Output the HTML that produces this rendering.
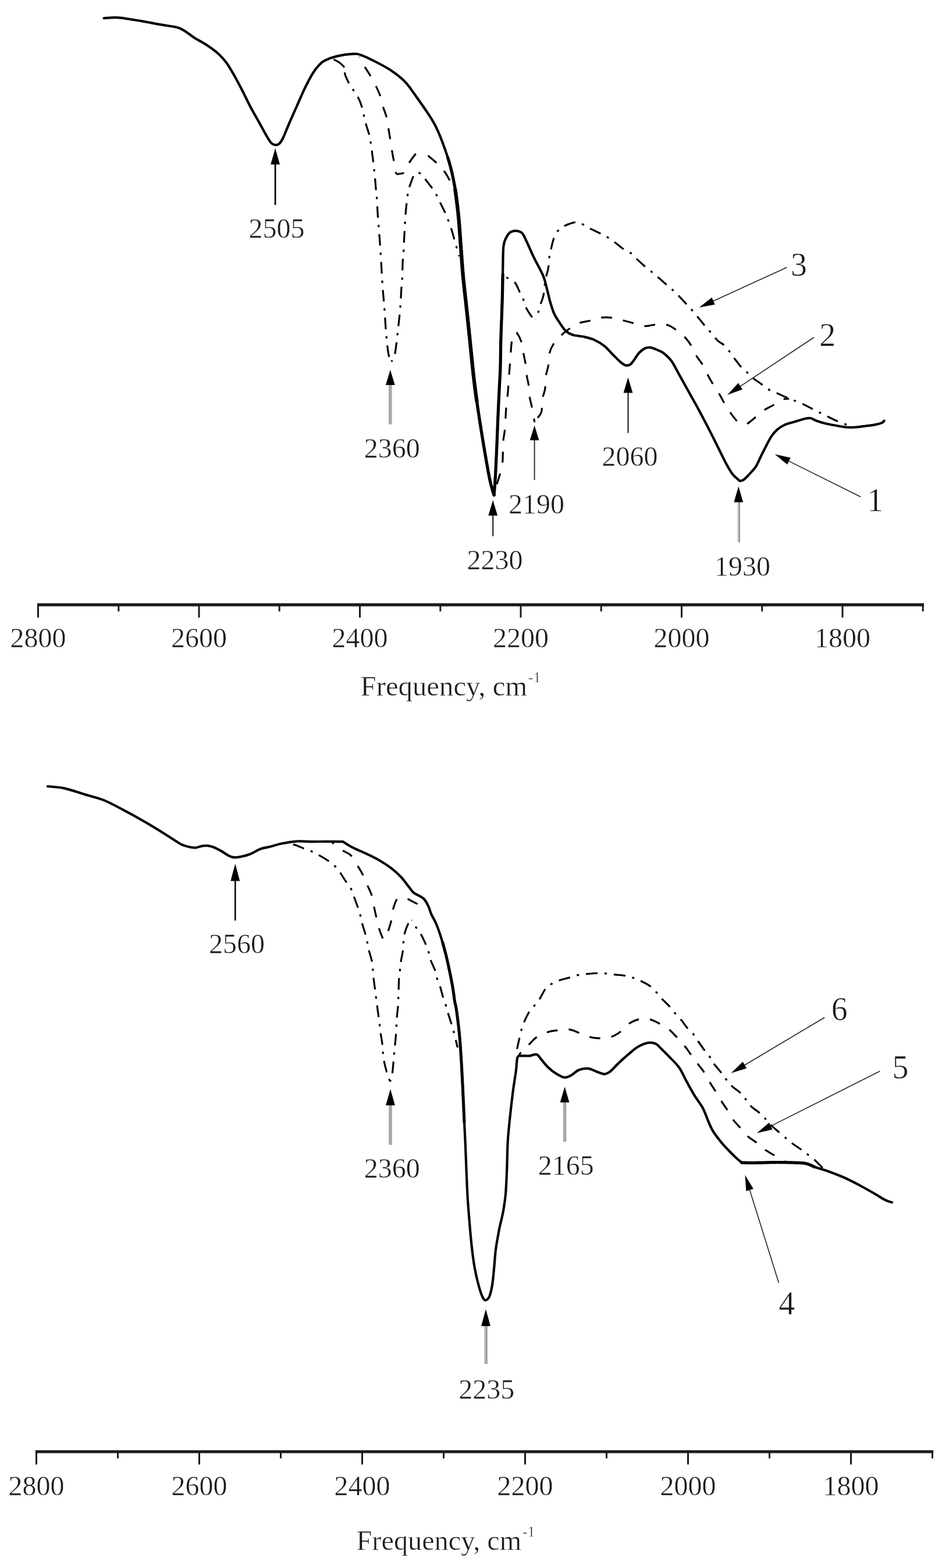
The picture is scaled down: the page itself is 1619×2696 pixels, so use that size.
<!DOCTYPE html>
<html><head><meta charset="utf-8"><title>IR spectra</title>
<style>
html,body{margin:0;padding:0;background:#fff}
svg{display:block}
.s{fill:none;stroke:#000;stroke-width:4.2;stroke-linejoin:round;stroke-linecap:round}
.dd{fill:none;stroke:#000;stroke-width:3.2;stroke-dasharray:20 12 4 12}
.da{fill:none;stroke:#000;stroke-width:3.2;stroke-dasharray:19 19}
.ax{stroke:#1a1a1a;stroke-width:5.2}
.tk{stroke:#1a1a1a;stroke-width:3}
.t{font-family:"Liberation Serif","DejaVu Serif",serif;font-size:48px;fill:#1a1a1a;stroke:#fff;stroke-width:0.5px}
.b{font-family:"Liberation Serif","DejaVu Serif",serif;font-size:56px;fill:#1a1a1a;stroke:#fff;stroke-width:0.6px}
.sup{font-size:26px}
</style></head><body>
<svg width="1619" height="2696" viewBox="0 0 1619 2696">
<rect width="1619" height="2696" fill="#fff"/>
<path class="s" d="M178.5 31.3C182.7 31.2 192.9 29.5 203.8 30.3C214.8 31.2 232.4 34.4 244.2 36.4C256.0 38.4 264.4 40.3 274.6 42.1C284.7 43.9 297.6 45.2 304.9 47.2C312.2 49.1 313.3 50.8 318.4 53.9C323.4 57.0 329.0 61.8 335.2 65.7C341.4 69.6 348.7 73.0 355.4 77.5C362.2 82.0 370.0 87.6 375.6 92.7C381.2 97.7 384.6 101.6 389.1 107.8C393.6 114.0 398.1 121.9 402.6 129.7C407.1 137.6 411.6 146.3 416.1 155.0C420.6 163.7 424.5 172.4 429.5 181.9C434.6 191.5 441.3 203.2 446.4 212.3C451.4 221.4 456.5 230.9 459.9 236.5C463.2 242.2 464.4 244.2 466.6 246.3C468.8 248.4 471.1 249.2 473.3 249.3C475.6 249.4 477.8 249.1 480.1 247.0C482.3 244.8 484.0 242.3 486.8 236.5C489.6 230.7 493.0 221.4 496.9 212.3C500.9 203.2 505.9 192.0 510.4 181.9C514.9 171.8 519.4 160.9 523.9 151.6C528.4 142.4 533.4 132.8 537.4 126.3C541.3 119.9 544.1 116.5 547.5 112.9C550.8 109.2 552.1 107.2 557.6 104.4C563.0 101.7 571.9 98.3 580.2 96.4C588.5 94.4 600.4 93.0 607.2 92.7C613.9 92.4 614.5 92.6 620.6 94.7C626.8 96.8 635.8 101.2 644.2 105.5C652.7 109.8 662.8 115.0 671.2 120.6C679.6 126.3 688.6 133.3 694.8 139.2C700.9 145.1 700.4 145.1 708.2 156.0C716.1 167.0 734.1 192.2 741.9 204.9C749.8 217.5 751.5 222.8 755.4 231.8C759.3 240.8 762.4 249.8 765.5 258.8C768.6 267.8 771.4 276.2 773.9 285.7C776.5 295.3 778.8 306.0 780.7 316.1C782.5 326.2 783.8 336.3 785.1 346.4C786.4 356.5 787.2 362.7 788.4 376.7C789.7 390.7 791.2 414.3 792.5 430.5C793.7 446.8 794.4 459.2 795.8 474.3C797.3 489.5 799.2 505.8 800.9 521.5C802.6 537.2 803.7 547.2 806.0 568.7C808.2 590.2 811.9 628.5 814.4 650.5C816.9 672.6 818.9 685.4 821.1 701.1C823.4 716.8 825.6 730.8 827.9 744.9C830.1 758.9 832.3 772.4 834.6 785.3C836.8 798.2 839.4 812.8 841.3 822.4C843.3 831.9 845.1 837.8 846.4 842.6C847.7 847.4 848.6 849.6 849.1 851.0C849.5 845.7 850.7 832.8 851.4 819.0C852.2 805.2 853.1 785.3 853.8 768.5C854.5 751.6 855.1 734.8 855.8 717.9C856.6 701.1 857.5 681.4 858.2 667.4C858.9 653.3 859.4 647.9 859.9 633.7C860.3 619.5 860.3 602.0 860.9 582.2C861.4 562.3 862.7 534.4 863.2 514.8C863.8 495.1 863.9 479.4 864.2 464.2C864.6 449.1 864.3 433.1 865.3 423.8C866.2 414.5 868.1 412.7 870.0 408.6C871.9 404.6 874.2 401.5 876.7 399.5C879.2 397.6 882.3 397.0 885.1 396.8C887.9 396.7 891.0 397.1 893.6 398.5C896.1 399.9 896.4 398.2 900.3 405.3C904.2 412.4 911.3 429.5 916.8 441.1C922.4 452.7 929.8 465.2 933.7 474.8C937.6 484.3 938.5 491.1 940.4 498.4C942.4 505.7 943.5 511.8 945.5 518.6C947.5 525.3 949.4 532.6 952.2 538.8C955.0 545.0 959.0 550.6 962.3 555.6C965.7 560.7 968.8 565.7 972.4 569.1C976.1 572.5 978.9 574.2 984.2 575.8C989.6 577.5 998.3 577.8 1004.4 579.2C1010.6 580.6 1015.7 581.7 1021.3 584.3C1026.9 586.8 1033.1 590.4 1038.1 594.4C1043.2 598.3 1047.1 603.4 1051.6 607.9C1056.1 612.3 1061.2 618.0 1065.1 621.3C1069.0 624.7 1072.1 627.2 1075.2 628.1C1078.3 628.9 1081.1 628.1 1083.6 626.4C1086.2 624.7 1087.8 621.3 1090.4 618.0C1092.9 614.6 1095.7 609.4 1098.8 606.2C1101.9 603.0 1105.5 600.2 1108.9 598.8C1112.3 597.4 1115.1 597.1 1119.0 597.7C1122.9 598.4 1128.9 601.2 1132.5 602.8C1136.1 604.4 1136.9 604.2 1140.4 607.2C1144.0 610.1 1149.4 614.5 1153.9 620.6C1158.4 626.8 1162.3 635.2 1167.4 644.2C1172.4 653.2 1178.6 664.4 1184.2 674.6C1189.8 684.7 1195.5 694.5 1201.1 704.9C1206.7 715.3 1212.3 725.9 1217.9 736.9C1223.5 747.8 1229.7 760.5 1234.8 770.6C1239.8 780.7 1244.3 790.2 1248.2 797.5C1252.2 804.8 1255.3 810.2 1258.4 814.4C1261.4 818.6 1264.5 820.7 1266.8 822.8C1269.0 824.9 1269.9 826.6 1271.8 826.8C1273.8 827.1 1275.8 826.6 1278.6 824.5C1281.4 822.4 1285.3 818.0 1288.7 814.4C1292.0 810.7 1295.7 807.4 1298.8 802.6C1301.9 797.8 1304.4 791.4 1307.2 785.7C1310.0 780.1 1312.5 774.8 1315.6 768.9C1318.7 763.0 1322.4 755.4 1325.7 750.4C1329.1 745.3 1331.9 741.9 1335.8 738.6C1339.8 735.2 1344.3 732.4 1349.3 730.1C1354.4 727.9 1360.6 726.8 1366.2 725.1C1371.8 723.4 1378.5 721.1 1383.0 720.0C1387.5 719.0 1389.8 718.5 1393.1 719.0C1396.5 719.6 1398.7 721.8 1403.2 723.4C1407.7 725.0 1414.5 727.1 1420.1 728.5C1425.7 729.9 1431.3 730.8 1436.9 731.8C1442.5 732.8 1448.2 734.1 1453.8 734.5C1459.4 735.0 1465.0 734.9 1470.6 734.5C1476.2 734.2 1481.9 733.2 1487.5 732.5C1493.1 731.8 1499.5 731.1 1504.3 730.1C1509.1 729.2 1513.6 727.9 1516.1 726.8C1518.6 725.7 1518.9 724.0 1519.5 723.4"/>
<path class="s" style="stroke-width:5.2" d="M769.6 270.9L769.9 272.1L770.3 273.2L770.6 274.3L771.0 275.4L771.3 276.5L771.7 277.6L772.0 278.8L772.3 279.9L772.7 281.1L773.0 282.2L773.3 283.4L773.6 284.6L773.9 285.7L774.3 286.9L774.6 288.2L774.9 289.4L775.2 290.6L775.5 291.8L775.8 293.1L776.1 294.3L776.4 295.6L776.7 296.9L777.0 298.1L777.3 299.4L777.6 300.7L777.9 302.0L778.1 303.3L778.4 304.5L778.7 305.8L778.9 307.1L779.2 308.4L779.5 309.7L779.7 311.0L780.0 312.3L780.2 313.5L780.5 314.8L780.7 316.1L780.9 317.3L781.1 318.6L781.4 319.9L781.6 321.1L781.8 322.4L782.0 323.6L782.2 324.9L782.4 326.2L782.5 327.4L782.7 328.7L782.9 330.0"/>
<path class="s" style="stroke-width:6.3" d="M782.4 326.2L782.5 327.4L782.7 328.7L782.9 330.0L783.1 331.2L783.3 332.5L783.4 333.8L783.6 335.0L783.8 336.3L783.9 337.5L784.1 338.8L784.3 340.1L784.4 341.3L784.6 342.6L784.7 343.9L784.9 345.1L785.1 346.4L785.2 347.6L785.4 348.8L785.5 350.0L785.7 351.2L785.8 352.3L786.0 353.4L786.1 354.5L786.2 355.6L786.4 356.7L786.5 357.8L786.6 358.9L786.8 360.1L786.9 361.2L787.0 362.4L787.2 363.6L787.3 364.9L787.4 366.1L787.6 367.5L787.7 368.9L787.8 370.3L788.0 371.8L788.1 373.4L788.3 375.0L788.4 376.7L788.6 378.5L788.8 380.4L788.9 382.4L789.1 384.4L789.2 386.6L789.4 388.8L789.6 391.0L789.8 393.3L789.9 395.6L790.1 398.0L790.3 400.4L790.5 402.8L790.6 405.2L790.8 407.6L791.0 410.1L791.2 412.5L791.3 414.9L791.5 417.2L791.7 419.6L791.8 421.9L792.0 424.1L792.2 426.3L792.3 428.5L792.5 430.5L792.6 432.6L792.8 434.5L792.9 436.5L793.1 438.4L793.2 440.3L793.3 442.1L793.5 443.9L793.6 445.8L793.7 447.6L793.8 449.3L794.0 451.1L794.1 452.9L794.2 454.6L794.4 456.4L794.5 458.1L794.6 459.9L794.8 461.6L794.9 463.4L795.0 465.2L795.2 467.0L795.4 468.8L795.5 470.6L795.7 472.5L795.8 474.3L796.0 476.2L796.2 478.2L796.4 480.1L796.6 482.0L796.8 483.9L797.0 485.9L797.2 487.9L797.4 489.8L797.6 491.8L797.8 493.8L798.1 495.7L798.3 497.7L798.5 499.7L798.7 501.7L798.9 503.7L799.2 505.7L799.4 507.7L799.6 509.6L799.8 511.6L800.0 513.6L800.3 515.6L800.5 517.6L800.7 519.5L800.9 521.5L801.1 523.4L801.3 525.3L801.5 527.2L801.7 529.0L801.9 530.7L802.1 532.5L802.3 534.2L802.5 535.9L802.7 537.7L802.8 539.4L803.0 541.2L803.2 542.9L803.4 544.7L803.6 546.6L803.8 548.4L804.0 550.4L804.2 552.4L804.5 554.4L804.7 556.6L804.9 558.8L805.2 561.1L805.4 563.5L805.7 566.1L806.0 568.7L806.2 571.5L806.5 574.4L806.9 577.5L807.2 580.7L807.5 584.0L807.9 587.4L808.2 591.0L808.6 594.6L808.9 598.2L809.3 601.9L809.7 605.6L810.1 609.4L810.4 613.2L810.8 616.9L811.2 620.6L811.6 624.3L811.9 627.9L812.3 631.5L812.7 634.9L813.0 638.3L813.4 641.6L813.7 644.7L814.1 647.7L814.4 650.5L814.7 653.2L815.0 655.9L815.3 658.4L815.6 660.9L815.9 663.2L816.2 665.5L816.5 667.8L816.8 670.0L817.0 672.1L817.3 674.2L817.6 676.2L817.9 678.2L818.1 680.1L818.4 682.1L818.7 684.0L818.9 685.9L819.2 687.8L819.5 689.7"/>
<path class="s" style="stroke-width:5.3" d="M818.9 685.9L819.2 687.8L819.5 689.7L819.7 691.5L820.0 693.4L820.3 695.3L820.6 697.2L820.8 699.1L821.1 701.1L821.4 703.0L821.7 705.0L822.0 706.9L822.2 708.8L822.5 710.7L822.8 712.6L823.1 714.4L823.4 716.3L823.6 718.1L823.9 720.0L824.2 721.8L824.5 723.6L824.8 725.4L825.0 727.2L825.3 729.0L825.6 730.8L825.9 732.6L826.2 734.3L826.5 736.1L826.7 737.9L827.0 739.6L827.3 741.4L827.6 743.1L827.9 744.9L828.1 746.6L828.4 748.4L828.7 750.1L829.0 751.9L829.3 753.6L829.5 755.3L829.8 757.0L830.1 758.7L830.4 760.4L830.7 762.1L830.9 763.8L831.2 765.5L831.5 767.2L831.8 768.9L832.1 770.5L832.3 772.2L832.6 773.9L832.9 775.5L833.2 777.2L833.5 778.8L833.8 780.4L834.0 782.1L834.3 783.7L834.6 785.3L834.9 786.9L835.2 788.6L835.4 790.2L835.7 791.9L836.0 793.5L836.3 795.2L836.6 796.9L836.9 798.5L837.2 800.2L837.5 801.8L837.8 803.5L838.1 805.1L838.4 806.7L838.6 808.3L838.9 809.9L839.2 811.4L839.5 812.9L839.8 814.4L840.0 815.8L840.3 817.2L840.6 818.6L840.8 819.9L841.1 821.2L841.3 822.4L841.6 823.5L841.8 824.7L842.1 825.8L842.3 826.9L842.5 827.9L842.8 828.9L843.0 829.9L843.2 830.8L843.5 831.7L843.7 832.6L843.9 833.4L844.1 834.3L844.3 835.1L844.5 835.9L844.7 836.6L844.9 837.3L845.1 838.1L845.3 838.8L845.5 839.4L845.7 840.1L845.9 840.7L846.1 841.4L846.2 842.0L846.4 842.6L846.5 843.2L846.7 843.7L846.9 844.3L847.0 844.8L847.1 845.3L847.3 845.7L847.4 846.2L847.6 846.6L847.7 847.0L847.8 847.4L847.9 847.7L848.1 848.1L848.2 848.4L848.3 848.7L848.4 849.0L848.5 849.3L848.6 849.5L848.7 849.8L848.7 850.0L848.8 850.2L848.9 850.4L849.0 850.6L849.0 850.8L849.1 851.0"/>
<path class="s" style="stroke-width:5.2" d="M849.1 851.0L849.1 850.3L849.2 849.5L849.3 848.7L849.3 847.7L849.4 846.8L849.5 845.7L849.6 844.6L849.7 843.4L849.8 842.2L849.9 840.9L850.0 839.5L850.1 838.2L850.2 836.7L850.3 835.3L850.5 833.8L850.6 832.2L850.7 830.7L850.8 829.1L850.9 827.4L851.0 825.8L851.1 824.1L851.2 822.4L851.3 820.7L851.4 819.0L851.5 817.3L851.6 815.4L851.7 813.6L851.8 811.7L851.9 809.7L852.0 807.7L852.1 805.6L852.2 803.5L852.3 801.4L852.4 799.3L852.5 797.1L852.6 794.9L852.7 792.7L852.8 790.5L852.9 788.2L853.0 786.0L853.1 783.8L853.2 781.5L853.3 779.3L853.4 777.1L853.5 774.9L853.6 772.7L853.7 770.6L853.8 768.5L853.9 766.4L854.0 764.3L854.1 762.1L854.2 760.0L854.2 757.9L854.3 755.8L854.4 753.7L854.5 751.6L854.6 749.5L854.6 747.4L854.7 745.3L854.8 743.2L854.9 741.1L855.0 739.0L855.1 736.9L855.1 734.8L855.2 732.7L855.3 730.6L855.4 728.5L855.5 726.3L855.6 724.2L855.6 722.1L855.7 720.0L855.8 717.9L855.9 715.8L856.0 713.7L856.1 711.5L856.2 709.3L856.3 707.1L856.4 704.9L856.5 702.7L856.6 700.5L856.7 698.2L856.8 696.0L856.9 693.8L857.0 691.6L857.1 689.4L857.2 687.2L857.3 685.1L857.4 683.0L857.5 680.9L857.6 678.8L857.7 676.8L857.8 674.8L857.9 672.9L858.0 671.0L858.1 669.2L858.2 667.4L858.3 665.7L858.3 664.0L858.4 662.5L858.5 661.0L858.6 659.6L858.7 658.2L858.7 656.9L858.8 655.6L858.9 654.3L859.0 653.1L859.0 651.8L859.1 650.6L859.2 649.4L859.2 648.1L859.3 646.9L859.4 645.6L859.4 644.3L859.5 643.0L859.6 641.6L859.6 640.1L859.7 638.6L859.8 637.1L859.8 635.4L859.9 633.7L859.9 631.9L860.0 630.1L860.0 628.2L860.1 626.3L860.1 624.4L860.1 622.4L860.2 620.4L860.2 618.4L860.2 616.4L860.3 614.3L860.3 612.2L860.3 610.0L860.4 607.9L860.4 605.7L860.4 603.4L860.5 601.2L860.5 598.9L860.5 596.6L860.6 594.2L860.6 591.9L860.7 589.5L860.7 587.1L860.8 584.6L860.9 582.2L860.9 579.6L861.0 577.0L861.1 574.4L861.2 571.6L861.3 568.9L861.4 566.0L861.5 563.2L861.6 560.2L861.7 557.3L861.8 554.3L861.9 551.4L862.1 548.4L862.2 545.4L862.3 542.5L862.4 539.5L862.5 536.6L862.6 533.7L862.7 530.8L862.8 528.0L862.9 525.2L863.0 522.5L863.1 519.8L863.2 517.3L863.2 514.8L863.3 512.3L863.4 509.9L863.4 507.6L863.5 505.3L863.5 503.0L863.6 500.7L863.6 498.5L863.7 496.3L863.7 494.1L863.8 492.0L863.8 489.9L863.8 487.8L863.9 485.8L863.9 483.7L863.9 481.7L864.0 479.7L864.0 477.7L864.0 475.8L864.1 473.8L864.1 471.9"/>
<path class="dd" style="stroke-dasharray:none" d="M573.5 102.1C575.2 103.1 580.5 105.6 583.6 107.8C586.7 110.1 590.6 114.3 592.0 115.6"/>
<path class="dd" stroke-dashoffset="47.4" d="M592.7 124.0C592.9 125.0 592.1 126.2 593.7 130.1C595.3 134.0 598.7 141.9 602.1 147.6C605.5 153.3 610.5 158.3 613.9 164.4C617.3 170.6 620.1 177.4 622.3 184.7C624.6 192.0 625.4 200.7 627.4 208.2C629.4 215.8 632.6 224.3 634.1 230.1C635.7 236.0 635.9 237.7 636.8 243.6C637.8 249.5 638.8 257.4 639.9 265.5C640.9 273.7 642.2 282.9 643.2 292.5C644.2 302.0 645.2 314.9 645.9 322.8C646.6 330.7 647.0 331.8 647.6 339.6C648.2 347.5 648.6 359.9 649.3 370.0C650.0 380.0 651.1 392.6 651.6 399.9C652.2 407.2 652.2 407.5 652.7 413.7C653.1 419.9 653.8 428.3 654.3 437.3C654.9 446.3 655.5 458.1 656.0 467.6C656.6 477.1 657.1 486.7 657.7 494.6C658.3 502.4 658.8 508.0 659.4 514.8C660.0 521.5 660.5 527.1 661.1 535.0C661.6 542.8 662.2 554.1 662.8 561.9C663.3 569.8 663.6 574.3 664.4 582.2C665.3 590.0 666.4 602.5 667.8 609.1C669.2 615.7 672.0 619.8 672.9 621.9"/>
<path class="dd" stroke-dashoffset="33.2" d="M672.9 621.9C673.8 619.8 676.9 616.9 678.6 609.1C680.3 601.4 681.9 584.4 683.0 575.4C684.1 566.4 684.5 563.1 685.3 555.2C686.2 547.3 687.3 537.8 688.0 528.2C688.8 518.7 689.2 506.3 689.7 497.9C690.3 489.5 691.0 485.6 691.4 477.7C691.8 469.8 691.7 458.6 692.1 450.8C692.5 442.9 693.3 437.8 693.8 430.5C694.2 423.2 694.3 415.9 694.8 407.0C695.2 398.0 695.9 385.1 696.5 376.7C697.0 368.3 697.3 364.4 698.1 356.5C699.0 348.6 700.3 336.3 701.5 329.5C702.7 322.8 703.9 320.8 705.6 316.1C707.2 311.3 709.6 304.2 711.6 300.9C713.6 297.6 715.6 296.7 717.7 296.5C719.8 296.4 721.7 297.8 724.1 299.9C726.4 302.0 728.0 304.4 731.8 309.3C735.7 314.3 743.3 323.9 747.0 329.5C750.6 335.2 751.2 338.0 753.7 343.0C756.3 348.1 759.7 354.8 762.2 359.9C764.6 364.9 766.0 367.7 768.2 373.3C770.5 379.0 773.3 386.3 775.6 393.6C778.0 400.8 780.1 409.2 782.4 417.1C784.6 424.9 788.0 436.7 789.1 440.6"/>
<path class="dd" stroke-dashoffset="30.6" d="M869.3 478.0C869.7 478.0 869.0 476.4 871.7 477.7C874.3 479.1 881.5 481.9 885.1 486.1C888.8 490.3 891.1 498.1 893.6 503.0C896.0 507.9 897.9 511.2 899.6 515.4C901.3 519.7 901.0 523.0 903.7 528.2C906.3 533.5 912.8 543.3 915.5 546.8C918.2 550.3 919.1 548.7 919.8 549.1"/>
<path class="dd" stroke-dashoffset="19.7" d="M919.8 549.1C920.7 547.2 923.4 542.0 924.9 537.7C926.4 533.4 927.4 528.1 928.9 523.2C930.5 518.3 932.6 515.1 934.0 508.0C935.4 501.0 936.0 488.9 937.4 481.1C938.8 473.2 941.3 467.3 942.4 460.9C943.5 454.4 943.3 447.9 944.1 442.3C944.9 436.8 945.8 433.1 947.2 427.6C948.5 422.1 950.1 414.4 952.2 409.1C954.4 403.7 957.2 399.0 960.0 395.6C962.8 392.2 964.2 391.1 969.1 388.9C974.0 386.6 984.0 382.7 989.3 382.1C994.6 381.6 997.1 383.8 1001.1 385.5C1005.0 387.2 1007.8 389.6 1012.9 392.2C1017.9 394.9 1026.1 398.6 1031.4 401.3C1036.7 404.0 1040.7 405.8 1044.9 408.4C1049.1 411.0 1052.2 413.5 1056.7 416.8C1061.2 420.1 1067.1 425.1 1071.8 428.3C1076.6 431.5 1081.4 433.0 1085.3 436.0C1089.2 439.0 1091.5 442.4 1095.4 446.1C1099.3 449.9 1104.7 454.9 1108.9 458.6C1113.1 462.2 1117.0 465.1 1120.7 468.0C1124.3 471.0 1126.6 472.8 1130.8 476.5C1135.0 480.1 1141.5 486.0 1146.0 489.9C1150.4 493.9 1154.1 496.7 1157.7 500.0C1161.4 503.4 1163.9 506.0 1167.9 510.1C1171.8 514.2 1177.6 520.6 1181.3 524.6C1185.1 528.7 1187.6 531.2 1190.4 534.4C1193.2 537.6 1194.4 539.2 1198.2 543.8C1202.0 548.5 1209.3 557.6 1213.3 562.4C1217.4 567.1 1219.1 568.7 1222.4 572.5C1225.7 576.3 1229.3 581.7 1233.1 585.3C1236.8 588.8 1241.5 590.6 1244.9 593.7C1248.2 596.8 1250.5 600.2 1253.3 603.8C1256.1 607.5 1258.4 611.1 1261.7 615.6C1265.1 620.1 1269.9 626.7 1273.5 630.8C1277.2 634.8 1280.0 636.5 1283.6 639.9C1287.3 643.2 1291.5 647.7 1295.4 651.0C1299.3 654.2 1303.3 656.5 1307.2 659.4C1311.1 662.3 1314.8 666.0 1319.0 668.5C1323.2 671.0 1326.3 671.7 1332.5 674.6C1338.7 677.4 1348.8 682.2 1356.1 685.3C1363.4 688.4 1369.5 690.1 1376.3 693.1C1383.0 696.1 1386.9 698.4 1396.5 703.2C1406.0 708.0 1424.6 717.5 1433.6 721.7C1442.5 725.9 1445.6 726.7 1450.4 728.5C1455.2 730.3 1460.2 731.8 1462.2 732.5"/>
<path class="da" stroke-dashoffset="18.1" d="M617.3 97.7C619.0 100.7 624.3 110.4 627.4 115.6C630.5 120.8 632.7 123.7 635.8 129.1C638.9 134.4 643.1 142.0 645.9 147.6C648.7 153.2 650.5 156.6 652.7 162.8C654.8 168.9 656.8 178.2 658.7 184.7C660.7 191.1 662.9 195.3 664.4 201.5C666.0 207.7 666.8 215.5 667.8 221.7C668.8 227.9 669.5 232.1 670.5 238.6C671.5 245.0 672.8 253.7 673.9 260.5C675.0 267.2 676.3 273.4 677.3 279.0C678.2 284.6 678.8 290.7 679.6 294.2C680.4 297.6 681.6 298.7 682.0 299.6"/>
<path class="da" stroke-dashoffset="5.0" d="M682.0 299.6C683.8 299.3 691.2 298.2 693.1 297.9"/>
<path class="da" stroke-dashoffset="17.3" d="M693.1 297.9C694.5 295.3 697.7 288.2 701.5 282.4C705.3 276.6 712.1 267.1 715.7 263.2C719.3 259.2 721.8 259.5 723.1 258.8"/>
<path class="da" stroke-dashoffset="22.7" d="M723.1 258.8C724.3 259.5 725.3 259.3 730.1 263.2C735.0 267.0 746.3 276.3 752.0 281.7C757.8 287.1 760.9 290.8 764.5 295.8C768.2 300.9 772.4 309.3 773.9 312.0"/>
<path class="da" stroke-dashoffset="20.6" d="M850.4 849.3C850.9 847.1 851.8 840.9 853.1 835.8C854.4 830.8 856.5 825.2 858.2 819.0C859.9 812.8 862.2 805.0 863.2 798.8C864.2 792.6 864.0 788.7 864.2 781.9C864.5 775.2 864.4 765.1 864.9 758.4C865.4 751.6 866.6 748.2 867.3 741.5C868.0 734.8 868.5 724.7 869.0 717.9C869.4 711.2 869.3 708.5 870.0 701.1C870.6 693.6 872.1 684.1 873.0 673.1C874.0 662.1 874.7 648.1 875.7 635.1C876.7 622.0 877.9 603.9 878.7 594.6C879.6 585.4 879.9 583.4 880.8 579.5C881.7 575.5 883.6 572.2 884.1 570.7"/>
<path class="da" stroke-dashoffset="34.4" d="M884.1 570.7C884.9 571.0 886.7 570.3 888.5 572.7C890.4 575.2 893.4 579.7 895.2 585.5C897.1 591.3 898.3 601.0 899.6 607.4C900.9 613.9 902.0 617.8 903.0 624.3C903.9 630.7 904.4 639.7 905.4 646.2C906.3 652.6 907.9 656.8 908.7 663.0C909.6 669.2 909.4 676.9 910.4 683.2C911.4 689.6 913.0 693.9 914.4 701.1C915.9 708.2 918.1 721.9 918.8 726.0"/>
<path class="da" stroke-dashoffset="28.7" d="M918.8 726.0C919.6 724.9 921.2 722.6 923.2 719.6C925.2 716.6 929.1 713.4 930.6 707.8C932.1 702.2 931.3 692.4 932.3 685.9C933.3 679.5 935.7 675.5 936.7 669.1C937.6 662.6 937.1 653.9 938.0 647.2C939.0 640.4 941.4 635.1 942.4 628.6C943.4 622.2 942.7 614.5 944.1 608.4C945.5 602.4 946.9 598.0 950.8 592.3C954.8 586.5 962.9 578.3 967.7 573.7C972.5 569.1 974.7 567.7 979.5 564.6C984.2 561.5 990.4 557.4 996.3 555.2C1002.2 553.0 1008.7 552.7 1014.9 551.2C1021.0 549.6 1027.5 546.9 1033.4 546.1C1039.3 545.3 1044.1 545.4 1050.2 546.1C1056.4 546.9 1063.7 549.0 1070.1 550.6C1076.6 552.2 1082.2 553.9 1088.7 555.6C1095.1 557.3 1102.7 560.2 1108.9 560.7C1115.1 561.1 1119.3 558.6 1125.7 558.3C1132.2 558.0 1141.2 557.2 1147.6 559.0C1154.1 560.8 1159.4 565.5 1164.5 569.1C1169.5 572.8 1174.0 576.7 1178.0 580.9C1181.9 585.1 1185.0 589.3 1188.1 594.4C1191.2 599.4 1193.2 605.7 1196.5 611.2C1199.8 616.7 1204.5 621.9 1207.8 627.4C1211.1 632.9 1213.4 638.9 1216.2 644.2C1219.0 649.6 1221.3 653.8 1224.7 659.4C1228.0 665.0 1233.1 672.3 1236.5 677.9C1239.8 683.5 1241.5 687.5 1244.9 693.1C1248.2 698.7 1252.5 706.0 1256.7 711.6C1260.9 717.2 1265.7 724.0 1270.1 726.8C1274.6 729.6 1279.1 729.9 1283.6 728.5C1288.1 727.1 1292.0 722.3 1297.1 718.4C1302.2 714.4 1308.6 708.5 1313.9 704.9C1319.3 701.2 1324.3 699.4 1329.1 696.5C1333.9 693.5 1338.1 689.2 1342.6 687.4C1347.1 685.5 1353.8 685.7 1356.1 685.3"/>
<path class="s" d="M81.9 1352.0C86.7 1352.6 100.2 1353.1 110.5 1355.4C120.9 1357.6 133.0 1362.1 144.2 1365.5C155.5 1368.9 166.7 1371.1 177.9 1375.6C189.2 1380.1 200.4 1386.5 211.6 1392.4C222.8 1398.3 234.1 1404.5 245.3 1411.0C256.5 1417.4 269.5 1425.3 279.0 1431.2C288.5 1437.1 297.0 1442.8 302.6 1446.3C308.2 1449.9 308.8 1450.7 312.7 1452.4C316.6 1454.1 322.2 1455.6 326.2 1456.5C330.1 1457.3 332.9 1457.7 336.3 1457.5C339.6 1457.2 343.0 1455.3 346.4 1454.8C349.8 1454.2 353.1 1453.8 356.5 1454.1C359.9 1454.4 362.7 1454.9 366.6 1456.5C370.5 1458.0 375.6 1460.7 380.1 1463.2C384.6 1465.7 389.6 1469.8 393.6 1471.6C397.5 1473.5 399.7 1474.2 403.7 1474.3C407.6 1474.4 412.7 1473.3 417.1 1472.3C421.6 1471.3 425.6 1470.3 430.6 1468.2C435.7 1466.2 441.9 1461.9 447.5 1459.8C453.1 1457.7 458.3 1457.3 464.3 1455.8C470.3 1454.2 475.9 1452.1 483.6 1450.5C491.3 1449.0 501.6 1447.1 510.5 1446.5C519.5 1445.9 529.1 1447.1 537.5 1447.2C545.9 1447.2 552.4 1446.8 561.1 1446.8C569.8 1446.8 584.9 1447.1 589.7 1447.2C592.2 1448.7 598.4 1453.2 604.9 1456.6C611.3 1460.0 620.6 1463.6 628.5 1467.4C636.3 1471.1 644.7 1475.0 652.0 1479.2C659.3 1483.4 666.1 1487.9 672.3 1492.7C678.4 1497.4 684.1 1502.5 689.1 1507.8C694.2 1513.2 698.9 1520.2 702.6 1524.7C706.2 1529.2 706.8 1531.4 711.0 1534.8C715.2 1538.1 723.6 1540.9 727.9 1544.9C732.1 1548.8 734.0 1553.9 736.3 1558.4C738.5 1562.8 739.1 1566.8 741.3 1571.8C743.6 1576.9 746.9 1581.9 749.8 1588.7C752.6 1595.4 755.4 1603.3 758.2 1612.3C761.0 1621.2 764.1 1632.5 766.6 1642.6C769.1 1652.7 771.4 1663.4 773.3 1672.9C775.3 1682.5 777.0 1691.4 778.4 1699.9C779.8 1708.3 780.8 1717.8 781.8 1723.5C782.7 1729.1 782.8 1725.2 784.1 1733.7C785.3 1742.1 787.7 1760.1 789.1 1774.1C790.5 1788.2 791.5 1802.2 792.5 1817.9C793.5 1833.6 794.3 1851.6 795.2 1868.5C796.0 1885.3 796.7 1902.2 797.5 1919.0C798.3 1935.8 799.2 1954.3 799.9 1969.5C800.6 1984.8 800.8 1995.3 801.5 2010.5C802.1 2025.8 802.9 2045.4 803.8 2061.1C804.8 2076.8 806.1 2091.4 807.2 2104.9C808.3 2118.4 809.2 2129.6 810.6 2141.9C812.0 2154.3 813.7 2167.8 815.6 2179.0C817.6 2190.2 820.1 2200.9 822.4 2209.3C824.6 2217.7 827.1 2225.2 829.1 2229.5C831.1 2233.9 832.2 2235.6 834.2 2235.6C836.1 2235.6 838.9 2233.9 840.9 2229.5C842.9 2225.2 844.6 2217.7 846.0 2209.3C847.4 2200.9 848.3 2189.1 849.3 2179.0C850.3 2168.9 850.6 2159.3 852.0 2148.7C853.4 2138.0 855.7 2125.7 857.7 2115.0C859.8 2104.3 862.6 2094.8 864.5 2084.7C866.3 2074.6 867.7 2066.7 868.9 2054.3C870.0 2042.0 870.6 2025.8 871.2 2010.5C871.9 1995.3 871.8 1978.1 872.7 1962.8C873.6 1947.5 875.2 1933.6 876.7 1919.0C878.2 1904.4 880.1 1888.1 881.8 1875.2C883.5 1862.3 885.5 1851.1 886.8 1841.5C888.1 1832.0 887.8 1822.3 889.5 1817.9C891.2 1813.6 893.6 1815.8 897.1 1815.4C900.6 1815.0 906.3 1815.8 910.5 1815.4C914.8 1815.0 919.0 1811.9 922.3 1813.1C925.7 1814.2 927.7 1818.7 930.8 1822.2C933.8 1825.6 936.9 1830.1 940.9 1833.9C944.8 1837.8 949.6 1842.0 954.3 1845.1C959.1 1848.2 965.0 1851.8 969.5 1852.5C974.0 1853.2 977.1 1851.2 981.3 1849.1C985.5 1847.0 989.7 1841.6 994.8 1839.7C999.8 1837.7 1006.6 1836.9 1011.6 1837.3C1016.7 1837.8 1020.6 1840.8 1025.1 1842.4C1029.6 1843.9 1034.6 1846.8 1038.6 1846.8C1042.5 1846.8 1044.7 1845.3 1048.7 1842.4C1052.6 1839.4 1057.1 1833.7 1062.2 1828.9C1067.2 1824.1 1073.4 1818.5 1079.0 1813.7C1084.6 1809.0 1090.1 1803.7 1095.8 1800.3C1101.6 1796.8 1108.3 1793.9 1113.5 1793.0C1118.7 1792.1 1123.0 1792.9 1127.0 1794.7C1130.9 1796.5 1133.1 1800.0 1137.1 1803.8C1141.0 1807.6 1145.5 1811.9 1150.5 1817.3C1155.6 1822.6 1162.3 1828.5 1167.4 1835.8C1172.4 1843.1 1176.4 1852.9 1180.9 1861.1C1185.4 1869.2 1189.8 1877.4 1194.3 1884.7C1198.8 1892.0 1204.2 1898.1 1207.8 1904.9C1211.5 1911.6 1213.4 1918.6 1216.2 1925.1C1219.0 1931.6 1221.0 1937.4 1224.7 1943.6C1228.3 1949.8 1233.6 1956.5 1238.1 1962.2C1242.6 1967.8 1247.1 1972.5 1251.6 1977.3C1256.1 1982.1 1261.2 1987.1 1265.1 1990.8C1269.0 1994.4 1273.5 1997.8 1275.2 1999.2C1279.7 1999.2 1292.0 1999.3 1302.2 1999.2C1312.3 1999.1 1324.6 1998.5 1335.8 1998.5C1347.1 1998.5 1361.1 1998.8 1369.5 1999.2C1378.0 1999.6 1380.8 1999.5 1386.4 2000.9C1392.0 2002.3 1397.6 2005.7 1403.2 2007.6C1408.8 2009.6 1412.2 2009.9 1420.1 2012.7C1427.9 2015.5 1440.9 2020.3 1450.4 2024.5C1460.0 2028.7 1468.4 2033.2 1477.4 2038.0C1486.3 2042.7 1497.0 2048.9 1504.3 2053.1C1511.6 2057.3 1516.4 2060.9 1521.2 2063.2C1525.9 2065.6 1531.0 2066.6 1533.0 2067.3"/>
<path class="s" style="stroke-width:5" d="M760.7 1620.6L761.1 1621.9L761.4 1623.1L761.8 1624.4L762.1 1625.7L762.5 1627.0L762.9 1628.3L763.2 1629.6L763.6 1630.9L763.9 1632.2L764.3 1633.5L764.6 1634.8L765.0 1636.2L765.3 1637.5L765.6 1638.8L766.0 1640.0L766.3 1641.3L766.6 1642.6L766.9 1643.9L767.2 1645.1L767.5 1646.4L767.8 1647.7L768.1 1649.0L768.4 1650.2L768.7 1651.5L769.0 1652.8L769.3 1654.1L769.6 1655.4L769.9 1656.7L770.2 1658.0L770.5 1659.2L770.7 1660.5L771.0 1661.8L771.3 1663.1L771.6 1664.3L771.8 1665.6L772.1 1666.8L772.3 1668.1L772.6 1669.3L772.8 1670.5L773.1 1671.7L773.3 1672.9L773.6 1674.1L773.8 1675.3L774.1 1676.5L774.3 1677.6L774.5 1678.8L774.8 1680.0L775.0 1681.1L775.2 1682.3L775.4 1683.4L775.7 1684.6L775.9 1685.7L776.1 1686.8L776.3 1687.9L776.5 1689.0L776.7 1690.2L776.9 1691.3L777.1 1692.4L777.3 1693.4L777.5 1694.5L777.7 1695.6L777.9 1696.7L778.0 1697.7L778.2 1698.8L778.4 1699.9L778.6 1700.9L778.7 1702.0L778.9 1703.1L779.1 1704.1L779.2 1705.2L779.4 1706.3L779.5 1707.4L779.7 1708.5L779.8 1709.5L780.0 1710.6L780.1 1711.7L780.3 1712.7L780.4 1713.7L780.5 1714.7L780.7 1715.7L780.8 1716.7L780.9 1717.6L781.0 1718.6L781.2 1719.5L781.3 1720.3L781.4 1721.2L781.5 1722.0L781.6 1722.7L781.8 1723.5L781.9 1724.1L782.0 1724.7L782.1 1725.2L782.2 1725.6L782.3 1725.9L782.3 1726.2L782.4 1726.5L782.5 1726.7L782.6 1726.9L782.7 1727.1L782.7 1727.3L782.8 1727.5L782.9 1727.7L783.0 1728.0L783.0 1728.2L783.1 1728.5L783.2 1728.9L783.3 1729.3L783.4 1729.8L783.5 1730.4L783.6 1731.1L783.8 1731.8L783.9 1732.7L784.1 1733.7L784.2 1734.8L784.4 1736.0L784.6 1737.3L784.8 1738.6L785.0 1740.1L785.2 1741.6L785.4 1743.2L785.6 1744.8L785.8 1746.5L786.1 1748.2L786.3 1750.0L786.5 1751.8L786.8 1753.6L787.0 1755.5L787.2 1757.4L787.4 1759.3L787.7 1761.2L787.9 1763.1L788.1 1765.0L788.3 1766.8L788.5 1768.7L788.7 1770.5L788.9 1772.3L789.1 1774.1L789.3 1775.9L789.5 1777.6L789.6 1779.4L789.8 1781.2L789.9 1782.9L790.1 1784.7L790.2 1786.4L790.4 1788.2L790.5 1790.0L790.7 1791.8L790.8 1793.6L790.9 1795.4L791.1 1797.2L791.2 1799.0L791.3 1800.9L791.5 1802.7L791.6 1804.6L791.7 1806.4L791.9 1808.3L792.0 1810.2L792.1 1812.1L792.2 1814.0L792.4 1816.0L792.5 1817.9L792.6 1819.9L792.7 1821.9L792.9 1823.9L793.0 1826.0L793.1 1828.0L793.2 1830.1L793.3 1832.2L793.4 1834.3L793.6 1836.4L793.7 1838.5L793.8 1840.6L793.9 1842.8L794.0 1844.9L794.1 1847.1L794.2 1849.2L794.3 1851.4L794.4 1853.5L794.5 1855.7L794.6 1857.8L794.8 1860.0L794.9 1862.1L795.0 1864.2L795.1 1866.4L795.2 1868.5L795.3 1870.6L795.4 1872.7L795.5 1874.8L795.6 1876.9L795.7 1879.0L795.8 1881.1L795.9 1883.2L796.0 1885.3L796.1 1887.4L796.2 1889.5L796.3 1891.6L796.4 1893.7L796.5 1895.8L796.6 1897.9L796.7 1900.1L796.8 1902.2L796.9 1904.3L797.0 1906.4L797.0 1908.5L797.1 1910.6L797.2 1912.7L797.3 1914.8L797.4 1916.9L797.5 1919.0L797.6 1921.1L797.7 1923.2L797.8 1925.4L797.9 1927.5L798.0 1929.7"/>
<path class="s" style="stroke-width:5.2" d="M1274.1 1998.4L1274.4 1998.6L1274.7 1998.8L1275.0 1999.0L1275.2 1999.2L1275.8 1999.2L1276.5 1999.2L1277.2 1999.2L1278.1 1999.2L1278.9 1999.2L1279.9 1999.2L1280.9 1999.2L1281.9 1999.2L1283.0 1999.2L1284.2 1999.3L1285.4 1999.3L1286.6 1999.3L1287.8 1999.3L1289.1 1999.3L1290.4 1999.3L1291.7 1999.3L1293.0 1999.3L1294.3 1999.3L1295.6 1999.3L1297.0 1999.3L1298.3 1999.3L1299.6 1999.2L1300.9 1999.2L1302.2 1999.2L1303.4 1999.2L1304.7 1999.2L1306.0 1999.2L1307.4 1999.1L1308.7 1999.1L1310.1 1999.1L1311.5 1999.0L1312.9 1999.0L1314.3 1999.0L1315.7 1998.9L1317.1 1998.9L1318.6 1998.8L1320.0 1998.8L1321.5 1998.8L1322.9 1998.7L1324.4 1998.7L1325.8 1998.7L1327.3 1998.6L1328.7 1998.6L1330.2 1998.6L1331.6 1998.6L1333.0 1998.6L1334.4 1998.5L1335.8 1998.5L1337.3 1998.5L1338.7 1998.6L1340.2 1998.6L1341.7 1998.6L1343.2 1998.6L1344.7 1998.6L1346.2 1998.6L1347.7 1998.6L1349.2 1998.7L1350.7 1998.7L1352.3 1998.7L1353.7 1998.7L1355.2 1998.8L1356.7 1998.8L1358.1 1998.8L1359.6 1998.9L1360.9 1998.9L1362.3 1998.9L1363.6 1999.0L1364.9 1999.0L1366.1 1999.1L1367.3 1999.1L1368.5 1999.2L1369.5 1999.2L1370.6 1999.3L1371.5 1999.3L1372.5 1999.3L1373.3 1999.4L1374.2 1999.4L1374.9 1999.4L1375.7 1999.5L1376.4 1999.5L1377.1 1999.6L1377.8 1999.6L1378.4 1999.6L1379.0 1999.7L1379.6 1999.7L1380.2 1999.8L1380.8 1999.9L1381.4 1999.9L1382.0 2000.0L1382.6 2000.1L1383.2 2000.2L1383.8 2000.3L1384.4 2000.4L1385.0 2000.6L1385.7 2000.7L1386.4 2000.9L1387.1 2001.1L1387.8 2001.3L1388.5 2001.5L1389.2 2001.8L1389.9 2002.0L1390.6 2002.3L1391.3 2002.5L1392.0 2002.8L1392.7 2003.1L1393.4 2003.4L1394.1 2003.7L1394.8 2004.1L1395.5 2004.4L1396.2 2004.7L1396.9 2005.0L1397.6 2005.3L1398.3 2005.6L1399.0 2006.0L1399.7 2006.3"/>
<path class="dd" stroke-dashoffset="42.7" d="M498.7 1450.5C500.7 1451.1 506.6 1452.5 510.5 1453.9C514.5 1455.3 518.4 1457.4 522.3 1459.0C526.3 1460.5 530.2 1461.7 534.1 1463.3C538.1 1465.0 541.1 1466.4 545.9 1469.1C550.7 1471.7 558.0 1476.0 562.8 1479.2C567.5 1482.4 571.2 1485.2 574.6 1488.3C577.9 1491.4 579.6 1493.0 583.0 1497.7C586.3 1502.4 591.4 1511.2 594.8 1516.2C598.1 1521.3 600.9 1523.8 603.2 1528.0C605.4 1532.2 606.3 1536.2 608.2 1541.5C610.2 1546.8 613.2 1554.9 615.0 1560.0C616.8 1565.2 617.9 1568.3 619.0 1572.5C620.2 1576.7 620.3 1579.8 621.7 1585.3C623.2 1590.8 626.2 1599.8 627.8 1605.5C629.4 1611.3 630.2 1615.2 631.2 1619.7C632.1 1624.2 632.2 1627.0 633.5 1632.5C634.9 1638.0 638.0 1646.8 639.2 1652.7C640.5 1658.6 640.5 1663.1 640.9 1667.9C641.4 1672.6 641.3 1675.7 641.9 1681.3C642.6 1686.9 643.9 1695.9 644.6 1701.5C645.4 1707.2 645.7 1710.2 646.3 1715.0C646.9 1719.8 647.5 1724.4 648.3 1730.3C649.0 1736.2 650.2 1744.9 651.0 1750.5C651.7 1756.2 652.1 1759.5 652.7 1764.0C653.2 1768.5 653.5 1771.6 654.3 1777.5C655.2 1783.4 657.0 1793.5 657.7 1799.4C658.4 1805.3 657.9 1808.4 658.4 1812.9C658.8 1817.4 659.1 1820.5 660.4 1826.3C661.7 1832.2 664.4 1842.7 666.1 1848.2C667.8 1853.8 669.8 1857.8 670.5 1859.7"/>
<path class="dd" stroke-dashoffset="33.0" d="M670.5 1859.7C671.1 1857.8 672.9 1853.8 673.9 1848.2C674.8 1842.7 675.7 1832.2 676.2 1826.3C676.8 1820.5 676.9 1817.4 677.3 1812.9C677.6 1808.4 678.0 1805.3 678.6 1799.4C679.2 1793.5 680.2 1783.4 680.6 1777.5C681.1 1771.6 681.1 1768.5 681.3 1764.0C681.5 1759.5 681.5 1756.2 682.0 1750.5C682.4 1744.9 683.5 1736.2 684.0 1730.3C684.4 1724.4 684.4 1723.0 684.7 1715.2C685.0 1707.3 685.3 1690.9 685.7 1683.0C686.2 1675.1 686.9 1672.9 687.4 1667.9C688.0 1662.8 688.3 1658.3 689.1 1652.7C690.0 1647.1 691.7 1639.8 692.5 1634.2C693.2 1628.5 693.0 1623.8 693.5 1619.0C693.9 1614.2 693.7 1611.0 695.2 1605.5C696.7 1600.0 700.5 1589.9 702.6 1586.0C704.7 1582.1 707.1 1582.6 708.0 1581.9"/>
<path class="dd" stroke-dashoffset="19.2" d="M708.0 1581.9C709.0 1583.9 712.2 1590.4 714.4 1593.7C716.6 1597.1 718.3 1597.4 721.1 1602.2C723.9 1606.9 728.7 1616.8 731.2 1622.4C733.8 1628.0 734.9 1631.4 736.3 1635.8C737.7 1640.3 737.7 1643.7 739.6 1649.3C741.6 1654.9 746.1 1663.9 748.1 1669.5C750.0 1675.2 750.0 1678.5 751.4 1683.0C752.8 1687.5 754.8 1691.2 756.5 1696.5C758.2 1701.8 759.9 1709.5 761.5 1715.0C763.2 1720.5 765.1 1724.7 766.6 1729.5C768.1 1734.3 768.5 1736.9 770.6 1743.8C772.6 1750.7 776.4 1761.2 779.0 1770.8C781.6 1780.3 785.2 1796.0 786.4 1801.1"/>
<path class="dd" stroke-dashoffset="0.3" d="M888.6 1803.6C889.3 1800.5 891.4 1790.7 892.7 1785.1C894.0 1779.5 895.0 1774.7 896.4 1769.9C897.8 1765.2 898.7 1761.8 901.1 1756.5C903.5 1751.1 907.6 1742.6 910.5 1737.9C913.5 1733.3 916.2 1731.9 919.0 1728.5C921.8 1725.1 924.3 1722.4 927.4 1717.7C930.5 1713.0 934.2 1704.4 937.5 1700.2C940.8 1696.0 943.0 1694.9 946.9 1692.4C950.9 1690.0 955.6 1687.7 961.1 1685.7C966.5 1683.7 974.3 1682.2 979.6 1680.6C984.9 1679.1 988.3 1677.6 993.1 1676.6C997.9 1675.6 1002.4 1675.1 1008.2 1674.6C1014.1 1674.0 1022.8 1673.3 1028.5 1673.2C1034.1 1673.1 1037.4 1673.5 1041.9 1673.9C1046.4 1674.3 1050.4 1675.0 1055.4 1675.6C1060.5 1676.2 1067.3 1676.5 1072.3 1677.3C1077.2 1678.0 1080.6 1678.6 1085.1 1680.0C1089.6 1681.4 1093.8 1683.1 1099.2 1685.7C1104.7 1688.3 1113.0 1692.4 1117.7 1695.8C1122.5 1699.2 1124.8 1702.5 1127.9 1705.9C1130.9 1709.3 1132.3 1711.8 1136.3 1716.0C1140.2 1720.2 1147.3 1726.7 1151.4 1731.2C1155.5 1735.7 1157.5 1739.0 1160.9 1743.0C1164.2 1746.9 1168.2 1750.6 1171.7 1754.8C1175.1 1759.0 1178.4 1764.3 1181.8 1768.2C1185.1 1772.2 1189.1 1775.0 1191.9 1778.4C1194.7 1781.7 1195.5 1784.0 1198.6 1788.5C1201.7 1793.0 1207.0 1800.8 1210.4 1805.3C1213.8 1809.8 1216.3 1811.8 1218.8 1815.4C1221.4 1819.1 1221.9 1822.2 1225.6 1827.2C1229.2 1832.3 1236.9 1840.9 1240.7 1845.7C1244.5 1850.5 1245.3 1852.3 1248.2 1856.0C1251.2 1859.7 1253.9 1863.6 1258.4 1867.8C1262.8 1872.0 1271.0 1877.1 1275.2 1881.3C1279.4 1885.5 1280.8 1889.4 1283.6 1893.1C1286.4 1896.7 1288.1 1899.5 1292.0 1903.2C1296.0 1906.8 1303.0 1911.2 1307.2 1915.0C1311.4 1918.7 1314.2 1922.4 1317.3 1925.8C1320.4 1929.1 1322.1 1931.7 1325.7 1935.2C1329.4 1938.7 1335.0 1943.3 1339.2 1947.0C1343.4 1950.6 1347.4 1954.0 1351.0 1957.1C1354.7 1960.2 1356.6 1962.2 1361.1 1965.5C1365.6 1968.9 1373.5 1974.1 1378.0 1977.3C1382.5 1980.6 1384.7 1982.5 1388.1 1985.1C1391.4 1987.6 1393.7 1988.4 1398.2 1992.5C1402.7 1996.5 1412.2 2006.5 1415.0 2009.3"/>
<path class="da" stroke-dashoffset="15.7" d="M571.2 1448.9C574.0 1451.0 582.7 1458.0 588.0 1461.7C593.4 1465.3 598.7 1466.2 603.2 1470.8C607.7 1475.4 611.6 1483.8 615.0 1489.3C618.4 1494.8 620.6 1498.2 623.4 1503.8C626.2 1509.4 629.3 1517.1 631.8 1523.0C634.4 1528.8 636.7 1532.6 638.6 1538.8C640.4 1545.0 641.5 1553.5 643.0 1560.0C644.4 1566.6 645.5 1571.6 647.0 1577.9C648.5 1584.2 650.2 1592.1 652.0 1598.1C653.9 1604.1 656.6 1610.6 658.1 1613.9C659.6 1617.3 660.6 1617.6 661.1 1618.3"/>
<path class="da" stroke-dashoffset="19.5" d="M661.1 1618.3C662.2 1615.4 665.4 1606.3 667.2 1600.5C669.1 1594.7 670.9 1589.8 672.3 1583.6C673.7 1577.4 673.9 1569.8 675.6 1563.4C677.3 1557.1 679.8 1549.7 682.4 1545.6C684.9 1541.5 689.4 1539.9 690.8 1538.8"/>
<path class="da" stroke-dashoffset="26.2" d="M690.8 1538.8C692.3 1539.8 695.2 1542.2 699.9 1544.9C704.6 1547.6 713.3 1552.2 718.8 1555.0C724.3 1557.8 730.6 1560.6 732.9 1561.7"/>
<path class="da" stroke-dashoffset="13.6" d="M892.0 1813.7C893.4 1812.0 897.5 1806.7 900.4 1803.6C903.4 1800.5 906.2 1798.6 909.9 1795.2C913.5 1791.8 916.9 1786.9 922.3 1783.4C927.8 1779.9 936.7 1776.3 942.5 1774.3C948.4 1772.3 951.8 1772.3 957.7 1771.6C963.6 1770.9 971.7 1769.3 977.9 1769.9C984.1 1770.6 989.2 1773.6 994.8 1775.7C1000.4 1777.7 1006.0 1780.8 1011.6 1782.4C1017.2 1784.0 1022.3 1784.9 1028.5 1785.1C1034.6 1785.3 1042.6 1785.1 1048.7 1783.4C1054.7 1781.7 1059.8 1778.6 1064.9 1775.0C1069.9 1771.3 1073.8 1765.2 1079.0 1761.5C1084.2 1757.9 1090.0 1754.7 1095.8 1753.1C1101.7 1751.5 1108.5 1751.1 1114.4 1752.1C1120.3 1753.0 1125.3 1755.8 1131.2 1758.8C1137.1 1761.8 1144.4 1765.8 1149.8 1769.9C1155.1 1774.0 1158.7 1778.6 1163.2 1783.4C1167.7 1788.2 1172.5 1793.3 1176.7 1798.6C1180.9 1803.8 1184.6 1809.4 1188.5 1814.7C1192.4 1820.1 1196.6 1825.7 1200.3 1830.6C1203.9 1835.5 1207.0 1838.8 1210.4 1844.1C1213.8 1849.3 1217.1 1856.3 1220.5 1861.9C1223.9 1867.5 1227.3 1872.3 1230.6 1877.7C1234.0 1883.2 1237.5 1889.5 1240.7 1894.6C1243.9 1899.7 1246.7 1903.2 1249.9 1908.2C1253.2 1913.3 1256.4 1920.0 1260.0 1925.1C1263.7 1930.1 1267.6 1933.8 1271.8 1938.6C1276.0 1943.3 1280.5 1949.4 1285.3 1953.7C1290.1 1958.1 1295.4 1960.9 1300.5 1964.9C1305.5 1968.8 1310.6 1973.7 1315.6 1977.3C1320.7 1980.9 1325.2 1983.0 1330.8 1986.4C1336.4 1989.8 1346.2 1995.7 1349.3 1997.5"/>
<line class="ax" x1="63.8" y1="1039.8" x2="1588.0" y2="1039.8"/>
<line class="tk" x1="65.5" y1="1039.8" x2="65.5" y2="1061.8"/>
<text class="t" x="65.5" y="1113.0" text-anchor="middle">2800</text>
<line class="tk" x1="203.8" y1="1039.8" x2="203.8" y2="1051.3"/>
<line class="tk" x1="342.0" y1="1039.8" x2="342.0" y2="1061.8"/>
<text class="t" x="342.0" y="1113.0" text-anchor="middle">2600</text>
<line class="tk" x1="480.2" y1="1039.8" x2="480.2" y2="1051.3"/>
<line class="tk" x1="618.5" y1="1039.8" x2="618.5" y2="1061.8"/>
<text class="t" x="618.5" y="1113.0" text-anchor="middle">2400</text>
<line class="tk" x1="756.8" y1="1039.8" x2="756.8" y2="1051.3"/>
<line class="tk" x1="895.0" y1="1039.8" x2="895.0" y2="1061.8"/>
<text class="t" x="895.0" y="1113.0" text-anchor="middle">2200</text>
<line class="tk" x1="1033.2" y1="1039.8" x2="1033.2" y2="1051.3"/>
<line class="tk" x1="1171.5" y1="1039.8" x2="1171.5" y2="1061.8"/>
<text class="t" x="1171.5" y="1113.0" text-anchor="middle">2000</text>
<line class="tk" x1="1309.8" y1="1039.8" x2="1309.8" y2="1051.3"/>
<line class="tk" x1="1448.0" y1="1039.8" x2="1448.0" y2="1061.8"/>
<text class="t" x="1448.0" y="1113.0" text-anchor="middle">1800</text>
<line class="tk" x1="1586.2" y1="1039.8" x2="1586.2" y2="1051.3"/>
<text class="t" style="font-size:48.8px" x="619.5" y="1195.5">Frequency, cm<tspan class="sup" dy="-23" dx="1.5">-1</tspan></text>
<line class="ax" x1="60.8" y1="2496.0" x2="1604.2" y2="2496.0"/>
<line class="tk" x1="62.5" y1="2496.0" x2="62.5" y2="2518.0"/>
<text class="t" x="62.5" y="2571.0" text-anchor="middle">2800</text>
<line class="tk" x1="202.5" y1="2496.0" x2="202.5" y2="2507.5"/>
<line class="tk" x1="342.5" y1="2496.0" x2="342.5" y2="2518.0"/>
<text class="t" x="342.5" y="2571.0" text-anchor="middle">2600</text>
<line class="tk" x1="482.5" y1="2496.0" x2="482.5" y2="2507.5"/>
<line class="tk" x1="622.5" y1="2496.0" x2="622.5" y2="2518.0"/>
<text class="t" x="622.5" y="2571.0" text-anchor="middle">2400</text>
<line class="tk" x1="762.5" y1="2496.0" x2="762.5" y2="2507.5"/>
<line class="tk" x1="902.5" y1="2496.0" x2="902.5" y2="2518.0"/>
<text class="t" x="902.5" y="2571.0" text-anchor="middle">2200</text>
<line class="tk" x1="1042.5" y1="2496.0" x2="1042.5" y2="2507.5"/>
<line class="tk" x1="1182.5" y1="2496.0" x2="1182.5" y2="2518.0"/>
<text class="t" x="1182.5" y="2571.0" text-anchor="middle">2000</text>
<line class="tk" x1="1322.5" y1="2496.0" x2="1322.5" y2="2507.5"/>
<line class="tk" x1="1462.5" y1="2496.0" x2="1462.5" y2="2518.0"/>
<text class="t" x="1462.5" y="2571.0" text-anchor="middle">1800</text>
<line class="tk" x1="1602.5" y1="2496.0" x2="1602.5" y2="2507.5"/>
<text class="t" style="font-size:48.3px" x="612.5" y="2664.5">Frequency, cm<tspan class="sup" dy="-23" dx="1.5">-1</tspan></text>
<line x1="473.1" y1="281.8" x2="473.1" y2="352.4" stroke="#000" stroke-width="2.7"/>
<path d="M473.1 254.8L465.2 282.8L481.0 282.8Z" fill="#000"/>
<line x1="670.8" y1="661.0" x2="670.8" y2="729.7" stroke="#a8a8a8" stroke-width="5.6"/>
<path d="M670.8 635.7L662.9 662.0L678.7 662.0Z" fill="#000"/>
<line x1="847.2" y1="885.6" x2="847.2" y2="922.0" stroke="#111" stroke-width="2.0"/>
<path d="M847.2 860.0L839.3 886.6L855.1 886.6Z" fill="#000"/>
<line x1="918.6" y1="756.0" x2="918.6" y2="825.2" stroke="#333" stroke-width="2.0"/>
<path d="M918.6 731.5L910.7 757.0L926.5 757.0Z" fill="#000"/>
<line x1="1079.5" y1="674.6" x2="1079.5" y2="744.5" stroke="#111" stroke-width="2.0"/>
<path d="M1079.5 649.0L1071.6 675.6L1087.4 675.6Z" fill="#000"/>
<line x1="1268.0" y1="862.5" x2="1268.0" y2="932.3" stroke="#dcdcdc" stroke-width="2.6"/>
<line x1="1270.6" y1="862.5" x2="1270.6" y2="932.3" stroke="#8c8c8c" stroke-width="2.6"/>
<path d="M1269.3 836.2L1261.4 863.5L1277.2 863.5Z" fill="#000"/>
<line x1="404.3" y1="1513.7" x2="404.3" y2="1582.8" stroke="#000" stroke-width="2.5"/>
<path d="M404.3 1485.1L396.4 1514.7L412.2 1514.7Z" fill="#000"/>
<line x1="671.0" y1="1899.5" x2="671.0" y2="1968.5" stroke="#a8a8a8" stroke-width="5.7"/>
<path d="M671.0 1872.5L663.1 1900.5L678.9 1900.5Z" fill="#000"/>
<line x1="970.6" y1="1894.5" x2="970.6" y2="1963.0" stroke="#a8a8a8" stroke-width="5.6"/>
<path d="M970.6 1868.5L962.7 1895.5L978.5 1895.5Z" fill="#000"/>
<line x1="833.6" y1="2279.0" x2="833.6" y2="2345.0" stroke="#bbb" stroke-width="2.8"/>
<line x1="836.4" y1="2279.0" x2="836.4" y2="2345.0" stroke="#999" stroke-width="2.8"/>
<path d="M835.0 2251.0L827.1 2280.0L842.9 2280.0Z" fill="#000"/>
<line x1="1226.1" y1="517.5" x2="1352.4" y2="459.8" stroke="#222" stroke-width="1.6"/>
<path d="M1201.5 528.7L1228.8 523.4L1223.4 511.6Z" fill="#000"/>
<line x1="1272.5" y1="664.1" x2="1399.0" y2="580.0" stroke="#222" stroke-width="1.6"/>
<path d="M1250.0 679.0L1276.1 669.5L1268.9 658.6Z" fill="#000"/>
<line x1="1355.9" y1="792.9" x2="1479.1" y2="854.2" stroke="#222" stroke-width="1.6"/>
<path d="M1331.7 780.9L1353.0 798.7L1358.8 787.1Z" fill="#000"/>
<line x1="1279.9" y1="1831.2" x2="1417.1" y2="1749.5" stroke="#222" stroke-width="1.6"/>
<path d="M1256.7 1845.0L1283.2 1836.8L1276.6 1825.6Z" fill="#000"/>
<line x1="1324.8" y1="1936.1" x2="1512.3" y2="1841.7" stroke="#222" stroke-width="1.6"/>
<path d="M1300.7 1948.2L1327.7 1941.9L1321.9 1930.3Z" fill="#000"/>
<line x1="1288.5" y1="2046.0" x2="1338.4" y2="2205.6" stroke="#222" stroke-width="1.6"/>
<path d="M1280.5 2020.2L1282.3 2047.9L1294.8 2044.0Z" fill="#000"/>
<text class="t" x="475.5" y="409.0" text-anchor="middle">2505</text>
<text class="t" x="673.7" y="787.0" text-anchor="middle">2360</text>
<text class="t" x="922.0" y="883.3" text-anchor="middle">2190</text>
<text class="t" x="850.6" y="979.0" text-anchor="middle">2230</text>
<text class="t" x="1082.6" y="800.5" text-anchor="middle">2060</text>
<text class="t" x="1276.0" y="990.3" text-anchor="middle">1930</text>
<text class="b" x="1373.0" y="474.0" text-anchor="middle">3</text>
<text class="b" x="1422.2" y="595.0" text-anchor="middle">2</text>
<text class="b" x="1504.3" y="879.0" text-anchor="middle">1</text>
<text class="t" x="407.0" y="1639.4" text-anchor="middle">2560</text>
<text class="t" x="673.7" y="2025.0" text-anchor="middle">2360</text>
<text class="t" x="972.7" y="2020.0" text-anchor="middle">2165</text>
<text class="t" x="836.3" y="2405.3" text-anchor="middle">2235</text>
<text class="b" x="1442.7" y="1754.0" text-anchor="middle">6</text>
<text class="b" x="1547.4" y="1854.0" text-anchor="middle">5</text>
<text class="b" x="1352.2" y="2259.5" text-anchor="middle">4</text>
</svg>
</body></html>
